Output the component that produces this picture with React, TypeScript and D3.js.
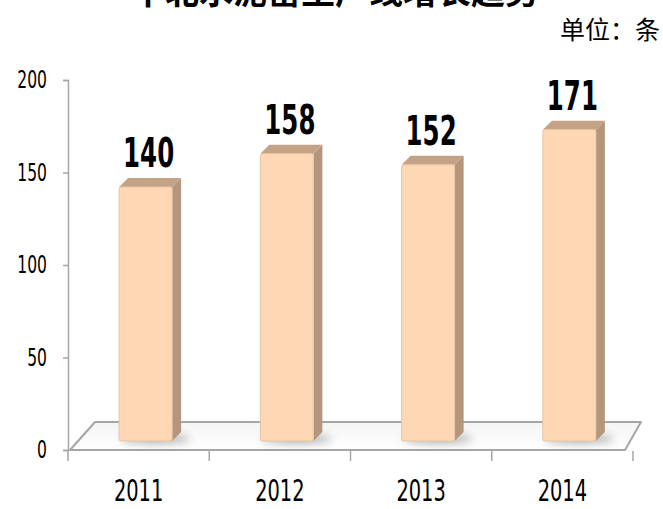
import { useRef, useEffect } from "react";
import * as d3 from "d3";

const years = ["2011", "2012", "2013", "2014"];
const counts = [140, 158, 152, 171];
const yTicks = [0, 50, 100, 150, 200];
const title = "华北水泥窑生产线增长趋势";
const unitLabel = "单位：条";

const W = 663;
const H = 509;

function App() {
  const ref = useRef<SVGSVGElement | null>(null);

  useEffect(() => {
    if (!ref.current) return;
    const svg = d3.select(ref.current).html("");

    const x = d3.scaleBand().domain(years).range([68, 633]);
    const y = d3.scaleLinear().domain([0, 200]).range([450, 80]);
    const numFont = "'DejaVu Sans Condensed', 'DejaVu Sans', sans-serif";

    // digits in the reference are tall and condensed
    const narrow = (sx: number) => (px: number, py: number) =>
      `translate(${px},${py}) scale(${sx},1)`;

    const defs = svg.append("defs");
    defs
      .append("filter")
      .attr("id", "blur")
      .attr("x", "-50%")
      .attr("y", "-100%")
      .attr("width", "200%")
      .attr("height", "300%")
      .append("feGaussianBlur")
      .attr("stdDeviation", 4);
    const fg = defs
      .append("linearGradient")
      .attr("id", "floor")
      .attr("x1", 0)
      .attr("y1", 0)
      .attr("x2", 0)
      .attr("y2", 1);
    fg.append("stop").attr("offset", 0).attr("stop-color", "#f4f4f4");
    fg.append("stop").attr("offset", 1).attr("stop-color", "#ffffff");

    // title (clipped at top, as in the source) and unit
    svg
      .append("text")
      .attr("x", 335)
      .attr("y", 4)
      .attr("text-anchor", "middle")
      .style("font-family", "'Noto Sans CJK SC', sans-serif")
      .style("font-weight", "bold")
      .style("font-size", "34px")
      .text(title);
    svg
      .append("text")
      .attr("x", 660)
      .attr("y", 39)
      .attr("text-anchor", "end")
      .style("font-family", "'Noto Sans CJK SC', sans-serif")
      .style("font-size", "25px")
      .text(unitLabel);

    // 3D floor
    const x0 = x.range()[0] + 2;
    const x1 = x.range()[1] - 8;
    const floorPts: [number, number][] = [
      [x0, y(0)],
      [x0 + 25, y(0) - 28],
      [x1 + 16, y(0) - 28],
      [x1, y(0)],
    ];
    svg
      .append("polygon")
      .attr("points", floorPts.map((p) => p.join(",")).join(" "))
      .attr("fill", "url(#floor)")
      .attr("stroke", "#a6a6a6")
      .attr("stroke-width", 2)
      .attr("stroke-linejoin", "round");

    // y axis
    const yAxis = svg
      .append("g")
      .attr("transform", `translate(${x.range()[0]},0)`)
      .call(d3.axisLeft(y).tickValues(yTicks).tickSize(5).tickFormat(() => ""));
    yAxis.select(".domain").attr("stroke", "#a6a6a6").attr("stroke-width", 1.5);
    yAxis.selectAll(".tick line").attr("stroke", "#a6a6a6").attr("stroke-width", 1.5);

    const tfY = narrow(0.72);
    svg
      .append("g")
      .selectAll("text")
      .data(yTicks)
      .join("text")
      .attr("transform", (d) => tfY(47, y(d) + 8))
      .attr("text-anchor", "end")
      .style("font-family", numFont)
      .style("font-size", "24px")
      .text((d) => d);

    // x axis ticks below floor
    const xEdges = [...years.map((d) => x(d) as number), x.range()[1]];
    svg
      .append("g")
      .selectAll("line")
      .data(xEdges)
      .join("line")
      .attr("x1", (d) => d)
      .attr("x2", (d) => d)
      .attr("y1", y(0) + 1)
      .attr("y2", y(0) + 11)
      .attr("stroke", "#a6a6a6")
      .attr("stroke-width", 1.5);
    const tfX = narrow(0.72);
    svg
      .append("g")
      .selectAll("text")
      .data(years)
      .join("text")
      .attr("transform", (d) => tfX((x(d) as number) + x.bandwidth() / 2, 501))
      .attr("text-anchor", "middle")
      .style("font-family", numFont)
      .style("font-size", "30px")
      .text((d) => d);

    // bars
    const bw = 53;
    const dx = 9;
    const dy = -9;
    const base = y(0) - 9;
    const bars = svg
      .append("g")
      .selectAll("g")
      .data(years.map((yr, i) => ({ yr, v: counts[i] })))
      .join("g");

    const left = (d: { yr: string }) =>
      (x(d.yr) as number) + x.bandwidth() / 2 + 7 - bw / 2;
    const top = (d: { v: number }) => y(d.v) - 4;

    bars
      .append("ellipse")
      .attr("cx", (d) => left(d) + bw / 2 + 10)
      .attr("cy", base - 2)
      .attr("rx", bw / 2 + 8)
      .attr("ry", 5)
      .attr("fill", "#8a8a8a")
      .attr("opacity", 0.6)
      .attr("filter", "url(#blur)");

    // side face
    bars
      .append("path")
      .attr("d", (d) => {
        const l = left(d) + bw;
        const t = top(d);
        return `M${l},${t}L${l + dx},${t + dy}L${l + dx},${base + dy}L${l},${base}Z`;
      })
      .attr("fill", "#b3967c");
    // top face
    bars
      .append("path")
      .attr("d", (d) => {
        const l = left(d);
        const t = top(d);
        return `M${l},${t}L${l + dx},${t + dy}L${l + bw + dx},${t + dy}L${l + bw},${t}Z`;
      })
      .attr("fill", "#c4a285");
    // front face
    bars
      .append("rect")
      .attr("x", (d) => left(d))
      .attr("y", (d) => top(d))
      .attr("width", bw)
      .attr("height", (d) => base - top(d))
      .attr("rx", 2)
      .attr("fill", "#fed8b4")
      .attr("stroke", "#e8c4a0")
      .attr("stroke-width", 1);

    // value labels
    const tfV = narrow(0.68);
    bars
      .append("text")
      .attr("transform", (d) => tfV(left(d) + bw / 2 + 3, y(d.v) - 24))
      .attr("text-anchor", "middle")
      .style("font-family", numFont)
      .style("font-weight", "bold")
      .style("font-size", "40px")
      .text((d) => d.v);
  }, []);

  return (
    <svg
      ref={ref}
      width={W}
      height={H}
      style={{ position: "absolute", left: 0, top: 0, background: "#fff" }}
    ></svg>
  );
}
export default App;
